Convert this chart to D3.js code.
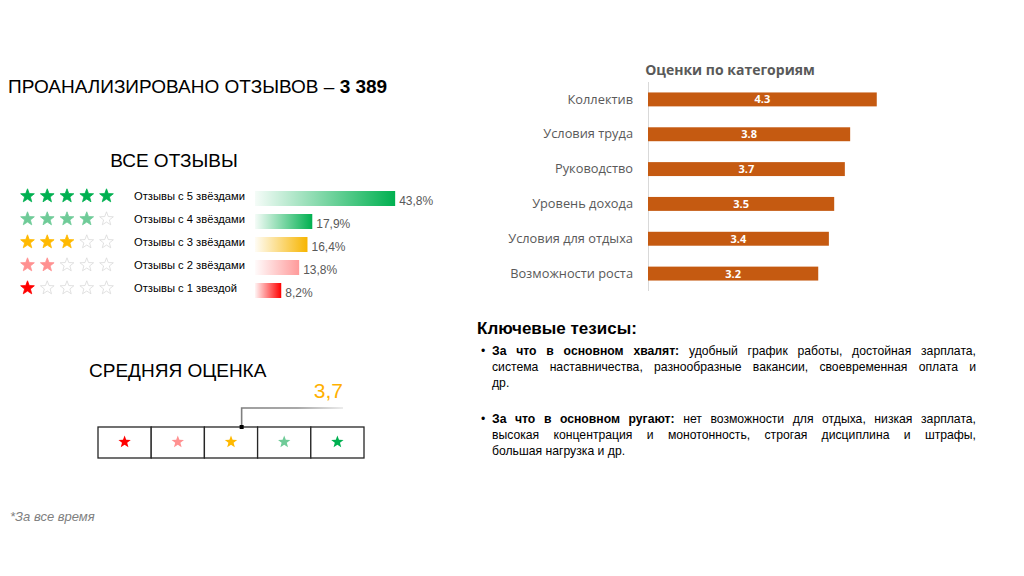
<!DOCTYPE html>
<html><head><meta charset="utf-8">
<script src="https://cdn.jsdelivr.net/npm/d3@7"></script>
<style>body{margin:0;background:#fff}svg{display:block}</style>
</head><body><svg id="c" width="1024" height="576"></svg>
<script>
// ---------- data ----------
const titleText = "ПРОАНАЛИЗИРОВАНО ОТЗЫВОВ – ";
const totalReviews = "3 389";
const starLevels = [5, 4, 3, 2, 1];
const starLabels = ["Отзывы с 5 звёздами", "Отзывы с 4 звёздами", "Отзывы с 3 звёздами", "Отзывы с 2 звёздами", "Отзывы с 1 звездой"];
const starShares = [43.8, 17.9, 16.4, 13.8, 8.2];
const avgScore = 3.7;
const avgSteps = [1, 2, 3, 4, 5];
const categories = ["Коллектив", "Условия труда", "Руководство", "Уровень дохода", "Условия для отдыха", "Возможности роста"];
const categoryScores = [4.3, 3.8, 3.7, 3.5, 3.4, 3.2];
const thesesTitle = "Ключевые тезисы:";
const thesesBold = ["За что в основном хвалят:", "За что в основном ругают:"];
const thesesLines = [
  ["удобный график работы, достойная зарплата,", "система наставничества, разнообразные вакансии, своевременная оплата и", "др."],
  ["нет возможности для отдыха, низкая зарплата,", "высокая концентрация и монотонность, строгая дисциплина и штрафы,", "большая нагрузка и др."]
];
const footnote = "*За все время";

// ---------- styles ----------
const SANS = "'Liberation Sans', Arial, sans-serif";
const SANS2 = "'Open Sans', sans-serif";
const levelColor = {5: "#00B050", 4: "#6FCB98", 3: "#FFB900", 2: "#FF9191", 1: "#FF0000"};
const barColor = {5: "#00B050", 4: "#00B050", 3: "#F7B500", 2: "#FF9A9A", 1: "#FF0000"};

const svg = d3.select("#c");
const defs = svg.append("defs");

function starPath(R, ratio = 0.42) {
  const pts = d3.range(10).map(i => {
    const a = -Math.PI / 2 + i * Math.PI / 5;
    const rr = i % 2 ? R * ratio : R;
    return [rr * Math.cos(a), rr * Math.sin(a)];
  });
  return "M" + pts.map(p => p.map(v => v.toFixed(2)).join(",")).join("L") + "Z";
}

// ---------- title ----------
const t = svg.append("text").attr("x", 8).attr("y", 93)
  .style("font-family", SANS).style("font-size", "19px").attr("fill", "#000");
t.append("tspan").text(titleText);
t.append("tspan").attr("font-weight", "bold").text(totalReviews);

svg.append("text").attr("x", 174).attr("y", 167).attr("text-anchor", "middle")
  .style("font-family", SANS).style("font-size", "19px").text("ВСЕ ОТЗЫВЫ");

// ---------- star rows ----------
const rowY = d3.scalePoint().domain(starLevels).range([196, 288]);
const starX = d3.scalePoint().domain(avgSteps).range([27.5, 106.5]);
const shareX = d3.scaleLinear().domain([0, 50]).range([0, 160]);
const barX0 = 255;
const fmt = d3.formatLocale({decimal: ",", thousands: " ", grouping: [3], currency: ["", ""]}).format(".1f");

starLevels.forEach((lvl, i) => {
  const g = svg.append("g");
  const y = rowY(lvl);
  g.selectAll("path").data(avgSteps).join("path")
    .attr("d", starPath(7.2))
    .attr("transform", d => `translate(${starX(d)},${y})`)
    .attr("fill", d => d <= lvl ? levelColor[lvl] : "#fff")
    .attr("stroke", d => d <= lvl ? levelColor[lvl] : "#d9d9d9")
    .attr("stroke-width", 0.8);
  g.append("text").attr("x", 134).attr("y", y + 4)
    .style("font-family", SANS).style("font-size", "11.2px").attr("fill", "#000")
    .text(starLabels[i]);

  const gid = "grad" + lvl;
  const gr = defs.append("linearGradient").attr("id", gid).attr("x1", 0).attr("x2", 1).attr("y1", 0).attr("y2", 0);
  gr.append("stop").attr("offset", 0).attr("stop-color", barColor[lvl]).attr("stop-opacity", 0.04);
  gr.append("stop").attr("offset", 1).attr("stop-color", barColor[lvl]).attr("stop-opacity", 1);
  const w = shareX(starShares[i]);
  g.append("rect").attr("x", barX0).attr("y", y - 5).attr("width", w).attr("height", 15)
    .attr("fill", `url(#${gid})`);
  g.append("text").attr("x", barX0 + w + 4).attr("y", y + 8.5)
    .style("font-family", SANS).style("font-size", "12px").attr("fill", "#595959")
    .text(fmt(starShares[i]) + "%");
});

// ---------- average score ----------
svg.append("text").attr("x", 89).attr("y", 377)
  .style("font-family", SANS).style("font-size", "19px").text("СРЕДНЯЯ ОЦЕНКА");

const boxX0 = 98, boxW = 266, boxY = 427, boxH = 31;
const cellW = boxW / avgSteps.length;
const avgX = d3.scaleLinear().domain([1, 5]).range([boxX0, boxX0 + 4 * cellW]);
const cellX = d3.scaleBand().domain(avgSteps).range([boxX0, boxX0 + boxW]);
const boxG = svg.append("g");
boxG.selectAll("rect").data(avgSteps).join("rect")
  .attr("x", d => cellX(d)).attr("y", boxY).attr("width", cellX.bandwidth()).attr("height", boxH)
  .attr("fill", "#fff").attr("stroke", "#262626").attr("stroke-width", 1.3);
boxG.selectAll("path").data(avgSteps).join("path")
  .attr("d", starPath(6.5))
  .attr("transform", d => `translate(${cellX(d) + cellX.bandwidth() / 2},${boxY + boxH / 2 - 0.5})`)
  .attr("fill", d => levelColor[d]);

const mx = avgX(avgScore);
const lg = defs.append("linearGradient").attr("id", "lineGrad")
  .attr("gradientUnits", "userSpaceOnUse").attr("x1", mx).attr("x2", 343).attr("y1", 0).attr("y2", 0);
lg.append("stop").attr("offset", 0).attr("stop-color", "#7f7f7f");
lg.append("stop").attr("offset", 0.55).attr("stop-color", "#8c8c8c");
lg.append("stop").attr("offset", 1).attr("stop-color", "#e6e6e6");
svg.append("path").attr("d", `M${mx},${boxY}V408H343`).attr("fill", "none")
  .attr("stroke", "url(#lineGrad)").attr("stroke-width", 1.6);
svg.append("rect").attr("x", mx - 2).attr("y", boxY - 2).attr("width", 4).attr("height", 4).attr("fill", "#000");
svg.append("text").attr("x", 343).attr("y", 398).attr("text-anchor", "end")
  .style("font-family", SANS).style("font-size", "21px").attr("fill", "#FFB000")
  .text(fmt(avgScore));

// ---------- category chart ----------
svg.append("text").attr("x", 730).attr("y", 75).attr("text-anchor", "middle")
  .style("font-family", SANS2).style("font-size", "14px").style("font-weight", "bold")
  .attr("fill", "#595959").text("Оценки по категориям");

const cx = d3.scaleLinear().domain([0, 5]).range([648, 914]);
const cy = d3.scaleBand().domain(categories).range([82, 291]).paddingInner(0.6).paddingOuter(0.3);
const axisG = svg.append("g").attr("transform", "translate(648,0)")
  .call(d3.axisLeft(cy).tickSize(0).tickPadding(15));
axisG.select(".domain").attr("stroke", "#d9d9d9").attr("d", "M0.5,82V291");
axisG.selectAll("text").style("font-family", SANS2).style("font-size", "12.8px").attr("fill", "#595959");

svg.append("g").selectAll("rect").data(categories).join("rect")
  .attr("x", cx(0)).attr("y", d => cy(d)).attr("width", (d, i) => cx(categoryScores[i]) - cx(0))
  .attr("height", cy.bandwidth()).attr("fill", "#C55A11");
svg.append("g").selectAll("text").data(categories).join("text")
  .attr("x", (d, i) => (cx(0) + cx(categoryScores[i])) / 2)
  .attr("y", d => cy(d) + cy.bandwidth() / 2 + 4)
  .attr("text-anchor", "middle")
  .style("font-family", SANS2).style("font-size", "11px").style("font-weight", "bold")
  .attr("fill", "#fff")
  .text((d, i) => categoryScores[i].toFixed(1));

// ---------- theses ----------
svg.append("text").attr("x", 477).attr("y", 334)
  .style("font-family", SANS).style("font-size", "17px").style("font-weight", "bold")
  .text(thesesTitle);

const textX = 492, textW = 484, lineH = 16;
const firstBase = [355, 423];
thesesLines.forEach((lines, bi) => {
  const g = svg.append("g").style("font-family", SANS).style("font-size", "12.2px").attr("fill", "#000");
  g.append("text").attr("x", 481).attr("y", firstBase[bi]).text("•");
  lines.forEach((ln, li) => {
    const words = [];
    if (li === 0) thesesBold[bi].split(" ").forEach(w => words.push({w, b: true}));
    ln.split(" ").forEach(w => words.push({w, b: false}));
    const y = firstBase[bi] + li * lineH;
    const nodes = words.map(o => g.append("text").attr("y", y)
      .style("font-weight", o.b ? "bold" : "normal").text(o.w));
    const widths = nodes.map(n => n.node().getComputedTextLength());
    const total = d3.sum(widths);
    const last = li === lines.length - 1;
    const gap = (!last && words.length > 1) ? (textW - total) / (words.length - 1) : 3.4;
    let x = textX;
    nodes.forEach((n, k) => { n.attr("x", x); x += widths[k] + gap; });
  });
});

// ---------- footnote ----------
svg.append("text").attr("x", 10).attr("y", 521)
  .style("font-family", SANS).style("font-size", "13px").style("font-style", "italic")
  .attr("fill", "#7f7f7f").text(footnote);
</script></body></html>
